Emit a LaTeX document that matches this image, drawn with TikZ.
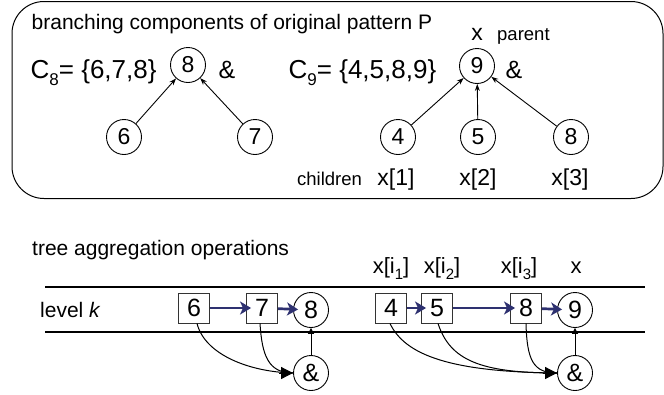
\documentclass[tikz,border=0pt]{standalone}
\usepackage{fontspec}
\setmainfont{Liberation Sans}
\usetikzlibrary{arrows.meta}
\definecolor{navy}{RGB}{46,49,112}
\newcommand\fs[1]{\fontsize{#1}{#1}\selectfont}
\newcommand\lsub[2]{\raisebox{-0.28em}{\fs{#1}#2}}
\begin{document}
\begin{tikzpicture}[x=1pt,y=1pt,
  circ/.style={circle, draw, line width=0.9pt, minimum size=35pt, inner sep=0pt, font=\fs{23}},
  bcirc/.style={circle, draw, line width=0.9pt, minimum size=35pt, inner sep=0pt, font=\fs{25}},
  sqbox/.style={rectangle, draw=black!80, line width=0.9pt, minimum width=31pt, minimum height=30pt, inner sep=0pt, font=\fs{25}},
  txt/.style={anchor=base west, inner sep=0pt},
  ctxt/.style={anchor=base, inner sep=0pt},
  treearrow/.style={line width=0.9pt, -{Stealth[length=7pt,width=5pt]}},
  bluearrow/.style={draw=navy, line width=2.7pt, shorten >=-5pt, -{Stealth[length=11pt,width=13pt,inset=3pt]}},
  curvearrow/.style={line width=1pt},
  uparrow/.style={line width=1pt, -{Triangle[length=6pt,width=6pt]}},
  levelline/.style={line width=2pt}
]
\useasboundingbox (0,0) rectangle (664,-394);
% top box
\draw[line width=1pt, rounded corners=32pt] (12,-1.5) rectangle (663,-198.5);
\node[txt, font=\fs{21}] (title) at (31.5,-29.5) {branching components of original pattern P};
\node[txt, font=\fs{26}] (c8) at (30.5,-78) {C\lsub{17}{8}= \{6,7,8\}};
\node[txt, font=\fs{26}] (c9) at (288.5,-78) {C\lsub{17}{9}= \{4,5,8,9\}};
\node[circ] (t8) at (188,-65) {8};
\node[ctxt, font=\fs{25}] (amp1) at (227,-78) {\&};
\node[circ] (t9) at (477,-66) {9};
\node[ctxt, font=\fs{25}] (amp2) at (514,-78) {\&};
\node[ctxt, font=\fs{23}] (xp) at (477,-40) {x};
\node[txt, font=\fs{18.5}] (parent) at (497,-40) {parent};
\node[circ] (t6) at (124,-137) {6};
\node[circ] (t7) at (255,-137) {7};
\node[circ] (t4) at (398,-137) {4};
\node[circ] (t5) at (478,-137) {5};
\node[circ] (t8b) at (571,-137) {8};
\node[txt, font=\fs{18.5}] (children) at (297,-185) {children};
\node[ctxt, font=\fs{23}] (x1) at (396,-185) {x[1]};
\node[ctxt, font=\fs{23}] (x2) at (478,-185) {x[2]};
\node[ctxt, font=\fs{23}] (x3) at (570,-185) {x[3]};
\draw[treearrow] (t6) -- (t8);
\draw[treearrow] (t7) -- (t8);
\draw[treearrow] (t4) -- (t9);
\draw[treearrow] (t5) -- (t9);
\draw[treearrow] (t8b) -- (t9);
% bottom part
\node[txt, font=\fs{21}] (tree) at (32,-255) {tree aggregation operations};
\node[ctxt, font=\fs{22}] (xi1) at (391,-273) {x[i\lsub{15}{1}]};
\node[ctxt, font=\fs{22}] (xi2) at (442,-273) {x[i\lsub{15}{2}]};
\node[ctxt, font=\fs{22}] (xi3) at (519,-273) {x[i\lsub{15}{3}]};
\node[ctxt, font=\fs{22}] (xx) at (576,-273) {x};
\coordinate (l1a) at (45,-287);
\coordinate (l1b) at (645,-287);
\coordinate (l2a) at (45,-332);
\coordinate (l2b) at (645,-332);
\draw[levelline] (l1a) -- (l1b);
\draw[levelline] (l2a) -- (l2b);
\node[txt, font=\fs{21}] (level) at (40,-317) {level \textit{k}};
\node[sqbox] (b6) at (194,-308) {6};
\node[sqbox] (b7) at (262,-308) {7};
\node[bcirc] (c8b) at (311,-310) {8};
\node[sqbox] (b4) at (391,-308) {4};
\node[sqbox] (b5) at (437,-308) {5};
\node[sqbox] (b8) at (526,-308) {8};
\node[bcirc] (c9b) at (575,-310) {9};
\node[bcirc] (a1) at (311,-373) {\&};
\node[bcirc] (a2) at (575,-373) {\&};
\draw[bluearrow] (b6) -- (b7);
\draw[bluearrow] (b7) -- (c8b);
\draw[bluearrow] (b4) -- (b5);
\draw[bluearrow] (b5) -- (b8);
\draw[bluearrow] (b8) -- (c9b);
\draw[uparrow] (a1) -- (c8b);
\draw[uparrow] (a2) -- (c9b);
% curved connectors
\draw[curvearrow] ([xshift=3pt]b6.south) .. controls (205,-355) and (250,-372) .. (a1.west);
\draw[curvearrow] ([xshift=-2pt]b7.south) .. controls (262,-355) and (268,-373) .. (a1.west);
\draw[curvearrow] ([xshift=-1pt]b4.south) .. controls (405,-355) and (450,-372) .. (a2.west);
\draw[curvearrow] ([xshift=1pt]b5.south) .. controls (450,-360) and (480,-373) .. (a2.west);
\draw[curvearrow] (b8.south) .. controls (527,-360) and (533,-373) .. (a2.west);
\draw[line width=1pt, -{Triangle[length=12pt,width=12pt]}] ([xshift=-14pt]a1.west) -- (a1.west);
\draw[line width=1pt, -{Triangle[length=12pt,width=12pt]}] ([xshift=-14pt]a2.west) -- (a2.west);
\end{tikzpicture}
\end{document}
